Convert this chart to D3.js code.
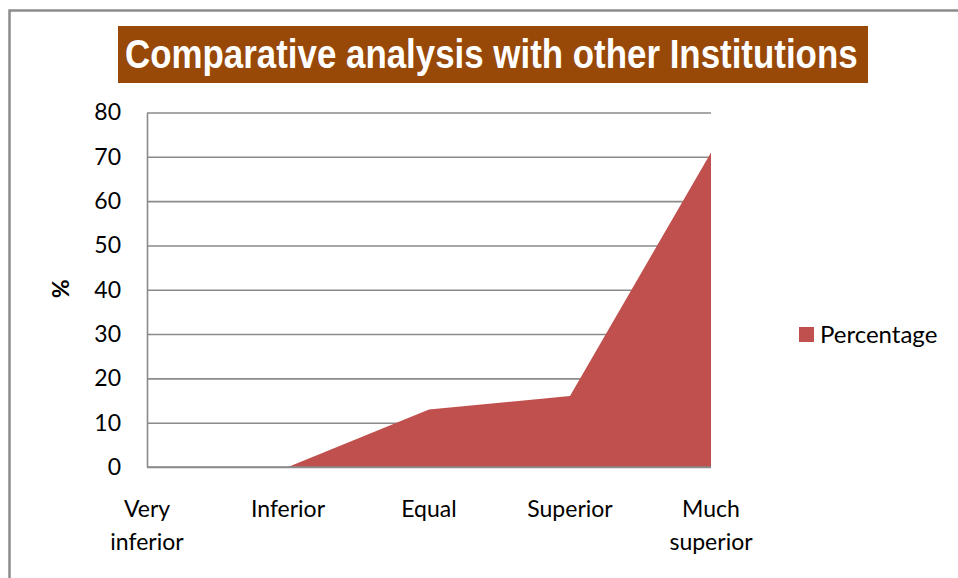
<!DOCTYPE html>
<html>
<head>
<meta charset="utf-8">
<script src="https://cdn.jsdelivr.net/npm/d3@7/dist/d3.min.js"></script>
<style>
  html, body { margin: 0; padding: 0; background: #fff; }
  svg { display: block; }
</style>
</head>
<body>
<div id="chart"></div>
<script>
// chart data
const categories = [['Very', 'inferior'], ['Inferior'], ['Equal'], ['Superior'], ['Much', 'superior']];
const percentage = [0, 0, 13, 16, 71];
const yTicks = [0, 10, 20, 30, 40, 50, 60, 70, 80];
const titleText = 'Comparative analysis with other Institutions';
const seriesName = 'Percentage';

const width = 958;
const height = 578;
const margin = { top: 112.5, right: 247, bottom: 111, left: 147 };
const labelFont = 'Lato, "Open Sans", sans-serif';
const labelSize = '23px';

const svg = d3.select('#chart')
    .append('svg')
    .attr('width', width)
    .attr('height', height);

// outer frame (only top and left edges fall inside the picture)
svg.append('path')
    .attr('d', `M9.5,${height} V10.5 H${width}`)
    .attr('fill', 'none')
    .attr('stroke', '#8c8c8c')
    .attr('stroke-width', 2.5);

const chartWidth = width - margin.left - margin.right;
const chartHeight = height - margin.top - margin.bottom;

const keys = categories.map(c => c.join(' '));

const x = d3.scalePoint()
    .domain(keys)
    .range([0, chartWidth])
    .padding(0);

const y = d3.scaleLinear()
    .domain([0, 80])
    .range([chartHeight, 0]);

const g = svg.append('g')
    .attr('transform', `translate(${margin.left},${margin.top})`);

// gridlines
g.append('g')
    .attr('class', 'grid')
    .call(d3.axisLeft(y).tickValues(yTicks).tickSize(-chartWidth).tickFormat(''))
    .call(s => s.select('.domain').remove())
    .call(s => s.selectAll('line').attr('stroke', '#8a8a8a').attr('stroke-width', 1.6));

// area
const area = d3.area()
    .x((d, i) => x(keys[i]))
    .y0(y(0))
    .y1(d => y(d));

g.append('path')
    .datum(percentage)
    .attr('fill', '#C0504D')
    .attr('d', area);

// axes
const yAxis = g.append('g')
    .call(d3.axisLeft(y).tickValues(yTicks).tickSize(0).tickPadding(26))
    .call(s => s.select('.domain').attr('stroke', '#8a8a8a').attr('stroke-width', 1.6));
yAxis.selectAll('text')
    .attr('font-family', labelFont)
    .attr('font-size', labelSize)
    .attr('fill', '#000');

g.append('line')
    .attr('x1', 0).attr('x2', chartWidth)
    .attr('y1', y(0)).attr('y2', y(0))
    .attr('stroke', '#8a8a8a')
    .attr('stroke-width', 1.6);

// category labels (two lines where needed)
const xLabels = g.selectAll('.xlabel')
    .data(categories)
    .join('text')
    .attr('class', 'xlabel')
    .attr('x', (d, i) => x(keys[i]))
    .attr('y', chartHeight + 50)
    .attr('text-anchor', 'middle')
    .attr('font-family', labelFont)
    .attr('font-size', labelSize)
    .attr('fill', '#000');

xLabels.selectAll('tspan')
    .data(d => d)
    .join('tspan')
    .attr('x', function() { return d3.select(this.parentNode).attr('x'); })
    .attr('dy', (d, i) => i === 0 ? 0 : 33)
    .text(d => d);

// y axis title
g.append('text')
    .attr('transform', `translate(-86,${chartHeight / 2 - 1}) rotate(-90)`)
    .attr('text-anchor', 'middle')
    .attr('font-family', labelFont)
    .attr('font-size', labelSize)
    .attr('font-weight', 'bold')
    .attr('dy', '0.35em')
    .text('%');

// title box
svg.append('rect')
    .attr('x', 118)
    .attr('y', 26)
    .attr('width', 750)
    .attr('height', 57)
    .attr('fill', '#984807');

// title is condensed horizontally to fit the box, like a narrow face
const titleWidth = 733;
const title = svg.append('text')
    .attr('font-family', '"Liberation Sans Narrow", "Arial Narrow", "Liberation Sans", sans-serif')
    .attr('font-size', '40px')
    .attr('font-weight', 'bold')
    .attr('fill', '#fff')
    .text(titleText);
const naturalWidth = title.node().getComputedTextLength();
const sx = Math.min(1, titleWidth / naturalWidth);
title.attr('transform', `translate(125,68) scale(${sx},1)`);

// legend
const legend = svg.append('g')
    .attr('transform', 'translate(799,327)');

legend.append('rect')
    .attr('width', 15)
    .attr('height', 15)
    .attr('fill', '#C0504D');

legend.append('text')
    .attr('x', 21)
    .attr('y', 16)
    .attr('font-family', labelFont)
    .attr('font-size', '24px')
    .attr('fill', '#000')
    .text(seriesName);
</script>
</body>
</html>
